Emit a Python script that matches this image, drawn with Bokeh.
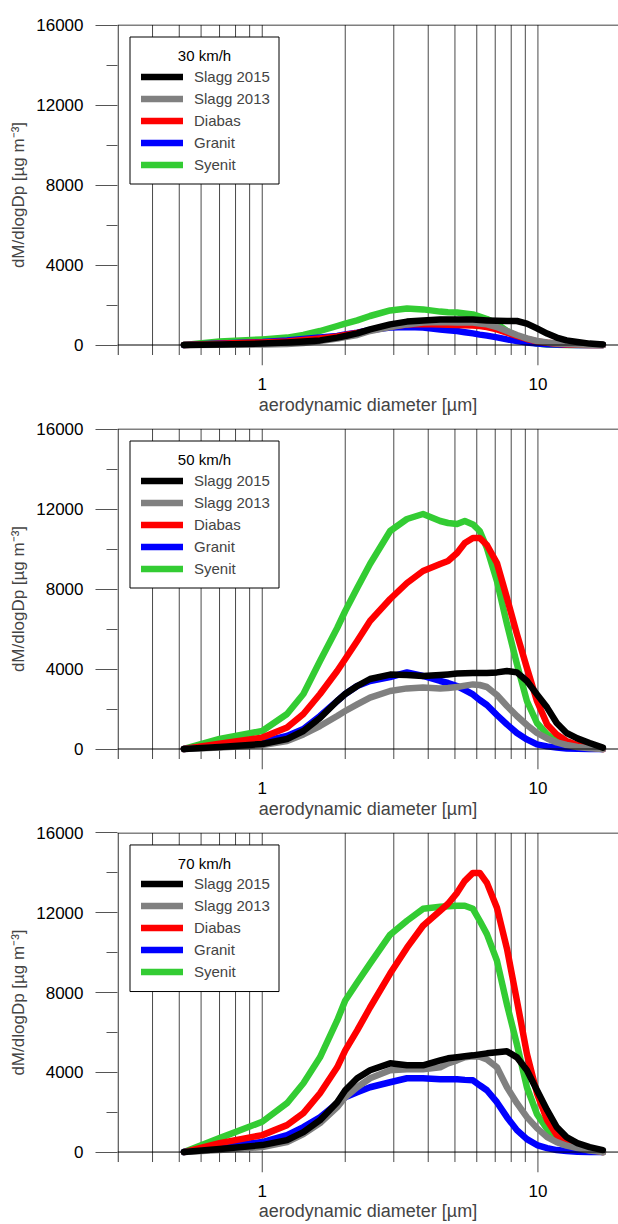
import math
from bokeh.plotting import figure
from bokeh.layouts import column
from bokeh.models import Range1d, FixedTicker, Span, Legend, LegendItem, PrintfTickFormatter
from bokeh.core.properties import value
from bokeh.embed import file_html
from bokeh.resources import INLINE

# aerodynamic diameter [µm]
diameter = [0.52, 0.70, 1.0, 1.23, 1.41, 1.62, 1.87, 2.0, 2.21, 2.46, 2.91, 3.35, 3.83, 4.42, 4.72,
            5.09, 5.43, 5.81, 6.15, 6.53, 7.1, 7.72, 8.39, 9.12, 9.92, 10.8, 11.7, 12.7, 13.9, 15.4, 17.2]

panel_titles = ["30 km/h", "50 km/h", "70 km/h"]
series_names = ["Slagg 2015", "Slagg 2013", "Diabas", "Granit", "Syenit"]
series_colors = ["#000000", "#808080", "#ff0000", "#0000ff", "#33cc33"]

# 30 km/h
slagg2015_30 = [0, 30, 70, 120, 170, 230, 370, 450, 580, 780, 1030, 1170, 1230, 1270, 1270, 1270, 1270, 1270,
                1250, 1230, 1210, 1200, 1200, 1070, 830, 570, 370, 230, 150, 70, 30]
slagg2013_30 = [0, 10, 30, 50, 100, 200, 320, 400, 500, 700, 900, 1030, 1120, 1150, 1140, 1120, 1120, 1120,
                1080, 1030, 900, 700, 500, 330, 200, 130, 80, 50, 30, 10, 0]
diabas_30 = [0, 60, 130, 180, 250, 330, 430, 500, 600, 730, 920, 1020, 1050, 1030, 1010, 1000, 990, 980,
             950, 900, 780, 620, 450, 300, 180, 110, 60, 30, 15, 5, 0]
granit_30 = [0, 80, 150, 220, 300, 370, 450, 530, 620, 750, 870, 900, 870, 780, 740, 700, 640, 580,
             520, 470, 380, 280, 200, 120, 70, 40, 20, 10, 0, 0, 0]
syenit_30 = [0, 170, 280, 370, 500, 700, 950, 1070, 1230, 1450, 1730, 1830, 1780, 1670, 1640, 1620, 1580, 1530,
             1420, 1300, 1050, 700, 450, 200, 70, 30, 10, 0, 0, 0, 0]

# 50 km/h
slagg2015_50 = [0, 100, 250, 500, 900, 1550, 2400, 2750, 3150, 3500, 3720, 3700, 3650, 3700, 3730, 3770, 3790,
                3800, 3800, 3800, 3830, 3900, 3830, 3400, 2730, 2070, 1300, 800, 530, 300, 70]
slagg2013_50 = [0, 70, 200, 400, 730, 1150, 1650, 1900, 2230, 2570, 2900, 3030, 3070, 3030, 3050, 3100, 3170,
                3230, 3200, 3100, 2700, 2150, 1650, 1200, 800, 530, 330, 200, 100, 40, 0]
diabas_50 = [0, 270, 570, 1070, 1750, 2750, 3900, 4500, 5400, 6400, 7500, 8300, 8900, 9250, 9400, 9800, 10300,
             10550, 10550, 10200, 9300, 7550, 5750, 4050, 2400, 1230, 730, 400, 200, 90, 0]
granit_50 = [0, 200, 370, 650, 1000, 1650, 2400, 2750, 3150, 3400, 3600, 3830, 3650, 3400, 3300, 3150, 2950,
             2730, 2450, 2200, 1700, 1230, 800, 480, 230, 130, 70, 30, 10, 0, 0]
syenit_50 = [0, 500, 900, 1750, 2750, 4400, 6050, 6900, 8050, 9250, 10900, 11500, 11750, 11400, 11300, 11250, 11400,
             11230, 10900, 10050, 8400, 6250, 4250, 2400, 1300, 730, 400, 240, 130, 50, 0]

# 70 km/h
slagg2015_70 = [0, 150, 350, 600, 1000, 1600, 2500, 3100, 3700, 4100, 4450, 4350, 4350, 4600, 4700, 4750, 4800,
                4850, 4900, 4950, 5000, 5050, 4750, 4100, 3100, 2100, 1250, 750, 450, 250, 100]
slagg2013_70 = [0, 100, 250, 500, 900, 1450, 2250, 2750, 3250, 3700, 4100, 4150, 4150, 4250, 4450, 4600, 4750,
                4800, 4780, 4650, 4250, 3250, 2450, 1750, 1200, 750, 500, 320, 200, 80, 0]
diabas_70 = [0, 450, 850, 1350, 1950, 2950, 4250, 5100, 6100, 7250, 8950, 10250, 11350, 12100, 12450, 13000, 13600,
             14000, 14000, 13500, 12250, 10200, 7600, 4930, 2950, 1600, 850, 500, 280, 120, 0]
granit_70 = [0, 250, 500, 850, 1250, 1750, 2450, 2750, 3000, 3250, 3500, 3700, 3700, 3650, 3650, 3650, 3620,
             3600, 3350, 3100, 2500, 1750, 1100, 650, 350, 200, 100, 50, 20, 0, 0]
syenit_70 = [0, 700, 1520, 2450, 3450, 4750, 6600, 7600, 8500, 9450, 10900, 11600, 12200, 12300, 12330, 12350, 12350,
             12200, 11600, 10930, 9600, 7400, 5400, 3250, 1900, 1150, 600, 350, 180, 70, 0]

panels = [
    [slagg2015_30, slagg2013_30, diabas_30, granit_30, syenit_30],
    [slagg2015_50, slagg2013_50, diabas_50, granit_50, syenit_50],
    [slagg2015_70, slagg2013_70, diabas_70, granit_70, syenit_70],
]

x_minor_grid = [0.4, 0.5, 0.6, 0.7, 0.8, 0.9, 2, 3, 4, 5, 6, 7, 8, 9]
x_major_ticks = [1, 10]
y_major_ticks = [0, 4000, 8000, 12000, 16000]
y_minor_ticks = [2000, 6000, 10000, 14000]
x_left = 0.3

FONT = "Liberation Sans"
GRID_COLOR = "#4a4a4a"

FIG_W = 618
BORDER_L = 117
FRAME_W = FIG_W - BORDER_L
FRAME_H = 341
X_START, X_END = 0.2985, 19.6
Y_START, Y_END = -1025, 16025
tops = [24, 11, 11]
bottoms = [52, 52, 50]
xlabel_standoffs = [2, 2, 1]


def sx_to_x(dx):
    """pixel offset from frame left -> data x (log scale)"""
    return 10 ** (math.log10(X_START) + dx / FRAME_W * math.log10(X_END / X_START))


def sy_to_y(dy):
    """pixel offset from frame top -> data y"""
    return Y_END - dy * (Y_END - Y_START) / FRAME_H


# legend box layout in pixels relative to frame top-left
BOX_L, BOX_R, BOX_T, BOX_B = 12.5, 161.5, 12.5, 159.5
TITLE_DY = 31
# legend item block: bottom-left corner measured from frame bottom-left
LEG_X, LEG_Y = 24, 191.5

figs = []
for k, data in enumerate(panels):
    p = figure(width=FIG_W, height=tops[k] + FRAME_H + bottoms[k], x_axis_type="log",
               x_range=Range1d(X_START, X_END), y_range=Range1d(Y_START, Y_END),
               output_backend="svg", toolbar_location=None,
               min_border_left=BORDER_L, min_border_right=0, min_border_top=tops[k],
               min_border_bottom=bottoms[k])
    p.outline_line_color = None
    p.xgrid.visible = False
    p.ygrid.visible = False
    p.background_fill_color = "white"
    p.border_fill_color = "white"

    # x axis
    xa = p.xaxis[0]
    xa.ticker = FixedTicker(ticks=x_major_ticks, minor_ticks=[])
    xa.formatter = PrintfTickFormatter(format="%d")
    xa.axis_line_color = None
    xa.major_tick_line_color = None
    xa.minor_tick_line_color = None
    xa.major_tick_out = 0
    xa.major_tick_in = 0
    xa.major_label_standoff = 12
    xa.major_label_text_font = FONT
    xa.major_label_text_font_size = "17px"
    xa.major_label_text_color = "black"
    xa.axis_label = "aerodynamic diameter [µm]"
    xa.axis_label_text_font = FONT
    xa.axis_label_text_font_size = "18px"
    xa.axis_label_text_font_style = "normal"
    xa.axis_label_standoff = xlabel_standoffs[k]

    # y axis
    ya = p.yaxis[0]
    ya.ticker = FixedTicker(ticks=y_major_ticks, minor_ticks=y_minor_ticks)
    ya.axis_line_color = None
    ya.major_tick_line_color = "#555555"
    ya.minor_tick_line_color = "#555555"
    ya.major_tick_out = 22
    ya.major_tick_in = 0
    ya.minor_tick_out = 11
    ya.minor_tick_in = 0
    ya.major_label_standoff = 12
    ya.major_label_text_font = FONT
    ya.major_label_text_font_size = "17px"
    ya.major_label_text_color = "black"
    ya.axis_label = "dM/dlogDp [µg m⁻³]"
    ya.axis_label_text_font = FONT
    ya.axis_label_text_font_size = "17px"
    ya.axis_label_text_font_style = "normal"
    ya.axis_label_standoff = 5

    # vertical grid lines (minor shorter, major extend as ticks)
    n = len(x_minor_grid)
    p.segment(x0=x_minor_grid, y0=[-500] * n, x1=x_minor_grid, y1=[16000] * n,
              line_color=GRID_COLOR, line_width=1)
    m = len(x_major_ticks)
    p.segment(x0=x_major_ticks, y0=[Y_START] * m, x1=x_major_ticks, y1=[16000] * m,
              line_color=GRID_COLOR, line_width=1)
    # left spine
    p.segment(x0=[x_left], y0=[-500], x1=[x_left], y1=[16000], line_color="black", line_width=1)
    p.add_layout(Span(location=16000, dimension="width", line_color="black", line_width=1))
    p.add_layout(Span(location=0, dimension="width", line_color="black", line_width=1))

    # legend frame (white box over the grid) and its centred title
    p.quad(left=[sx_to_x(BOX_L)], right=[sx_to_x(BOX_R)], top=[sy_to_y(BOX_T)], bottom=[sy_to_y(BOX_B)],
           fill_color="white", line_color="black", line_width=1)
    p.text(x=[sx_to_x((BOX_L + BOX_R) / 2)], y=[sy_to_y(TITLE_DY)], text=[panel_titles[k]],
           text_align="center", text_baseline="middle", text_font=value(FONT),
           text_font_style="normal", text_font_size="15px", text_color="black")

    renderers = {}
    draw_order = [4, 3, 2, 1, 0]
    for i in draw_order:
        r = p.line(diameter, data[i], line_color=series_colors[i], line_width=6.5,
                   line_cap="round", line_join="round")
        renderers[i] = r

    items = [LegendItem(label=series_names[i], renderers=[renderers[i]]) for i in range(5)]
    legend = Legend(items=items, location=(LEG_X, LEG_Y),
                    label_text_font=FONT, label_text_font_size="15px",
                    glyph_width=42, glyph_height=19, label_height=19, spacing=3,
                    label_standoff=11, padding=10,
                    border_line_color=None, background_fill_alpha=0.0)
    p.add_layout(legend)
    figs.append(p)

layout = column(*figs, spacing=0)
open("out.html", "w").write(file_html(layout, INLINE))
